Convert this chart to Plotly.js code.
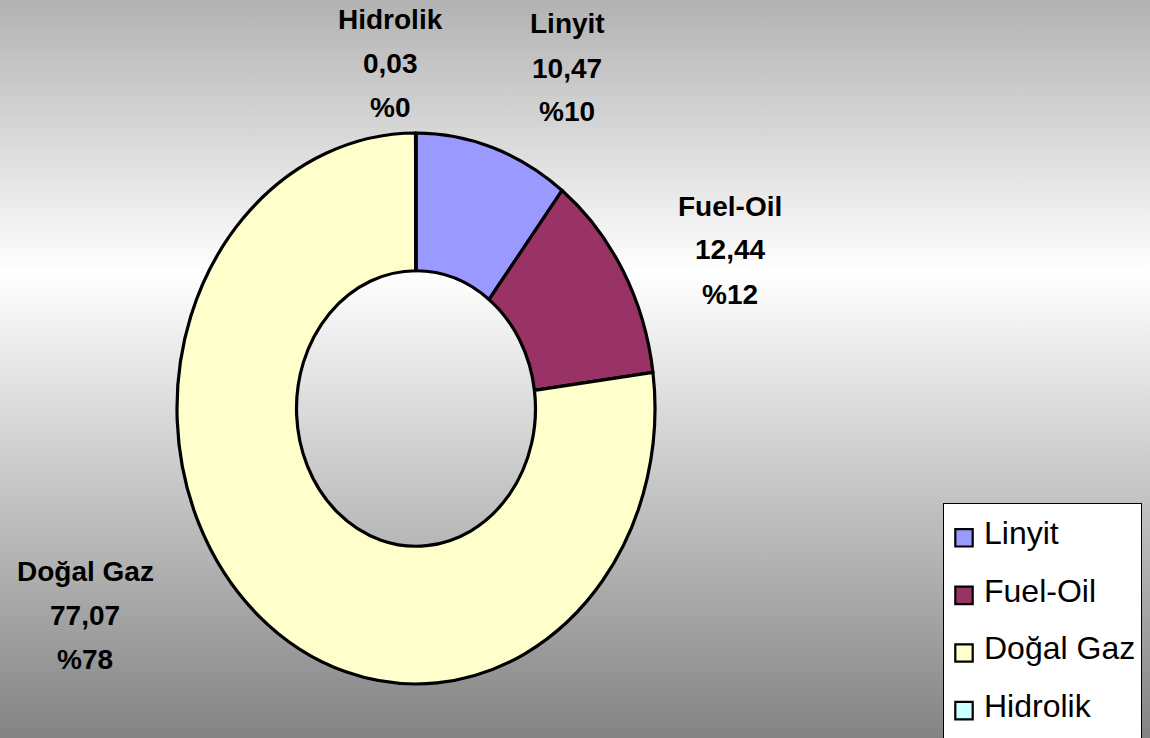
<!DOCTYPE html>
<html>
<head>
<meta charset="utf-8">
<script src="https://cdn.plot.ly/plotly-3.0.1.min.js"></script>
<style>
html, body { margin: 0; padding: 0; }
#chart { width: 1150px; height: 738px;
  background: linear-gradient(to bottom, #b2b2b2 0%, #ffffff 37%, #838383 100%); }
</style>
</head>
<body>
<div id="chart"></div>
<script>
// ---- data ----
const categories = ['Linyit', 'Fuel-Oil', 'Doğal Gaz', 'Hidrolik'];
const values = [10.47, 12.44, 77.07, 0.03];
const percentLabels = [10, 12, 78, 0];

// ---- styles / layout config ----
const sliceColors = ['#9999FF', '#993366', '#FFFFCC', '#CCFFFF'];
const W = 1150, H = 738;
const cx = 416, cy = 408.5, rx = 239, ry = 275.5;   // donut geometry (px)
const labelFont = { family: 'Liberation Sans, Arial, sans-serif', size: 28, color: '#000', weight: 'bold' };
// first-line centre of each data-label block (px), keyed by category
const labelPos = {
  'Linyit':    [567, 24],
  'Fuel-Oil':  [730, 206],
  'Doğal Gaz': [85, 571],
  'Hidrolik':  [390, 19.5]
};
const lineGap = 44;

const fmt = v => v.toFixed(2).replace('.', ',');

const annotations = [];
categories.forEach((c, i) => {
  const [px, py] = labelPos[c];
  const lines = [c, fmt(values[i]), '%' + percentLabels[i]];
  lines.forEach((t, j) => {
    annotations.push({
      text: '<b>' + t + '</b>', showarrow: false,
      xref: 'paper', yref: 'paper',
      x: px / W, y: 1 - (py + j * lineGap) / H,
      xanchor: 'center', yanchor: 'middle',
      font: labelFont
    });
  });
});

const data = [{
  type: 'pie',
  labels: categories.map(c => '<span style="font-size:32px">' + c + '</span>'),
  values: values,
  sort: false,
  direction: 'clockwise',
  rotation: 0,
  hole: 0.5,
  textinfo: 'none',
  hoverinfo: 'label+value+percent',
  marker: { colors: sliceColors, line: { color: '#000000', width: 3.2 } },
  domain: {
    x: [(cx - rx) / W, (cx + rx) / W],
    y: [(H - cy - rx) / H, (H - cy + rx) / H]
  }
}];

const layout = {
  width: W, height: H,
  margin: { l: 0, r: 0, t: 0, b: 0, autoexpand: false },
  paper_bgcolor: 'rgba(0,0,0,0)',
  plot_bgcolor: 'rgba(0,0,0,0)',
  showlegend: true,
  legend: {
    x: 943 / W, y: 1 - 503 / H, xanchor: 'left', yanchor: 'top',
    bgcolor: '#ffffff', bordercolor: '#000000', borderwidth: 1,
    font: { family: 'Liberation Sans, Arial, sans-serif', size: 42, color: '#000' },
    traceorder: 'normal'
  },
  annotations: annotations
};

Plotly.newPlot('chart', data, layout, { staticPlot: true, displayModeBar: false }).then(gd => {
  // stretch the donut vertically into the reference's ellipse
  const k = ry / rx;
  gd.querySelectorAll('.pielayer').forEach(el =>
    el.setAttribute('transform', 'matrix(1 0 0 ' + k + ' 0 ' + (cy * (1 - k)) + ')'));
  gd.querySelectorAll('.pielayer path').forEach(el =>
    el.style.vectorEffect = 'non-scaling-stroke');
  // legend cosmetics
  gd.querySelectorAll('.legend .legendtext').forEach(el =>
    el.setAttribute('transform', 'translate(0,-10)'));
  gd.querySelectorAll('.legend .legendpoints path').forEach(el => {
    el.setAttribute('transform', (el.getAttribute('transform') || '') + ' scale(1.45)');
    el.style.vectorEffect = 'non-scaling-stroke';
    el.style.strokeWidth = '2.2px';
    el.style.stroke = '#000';
  });
});
</script>
</body>
</html>
